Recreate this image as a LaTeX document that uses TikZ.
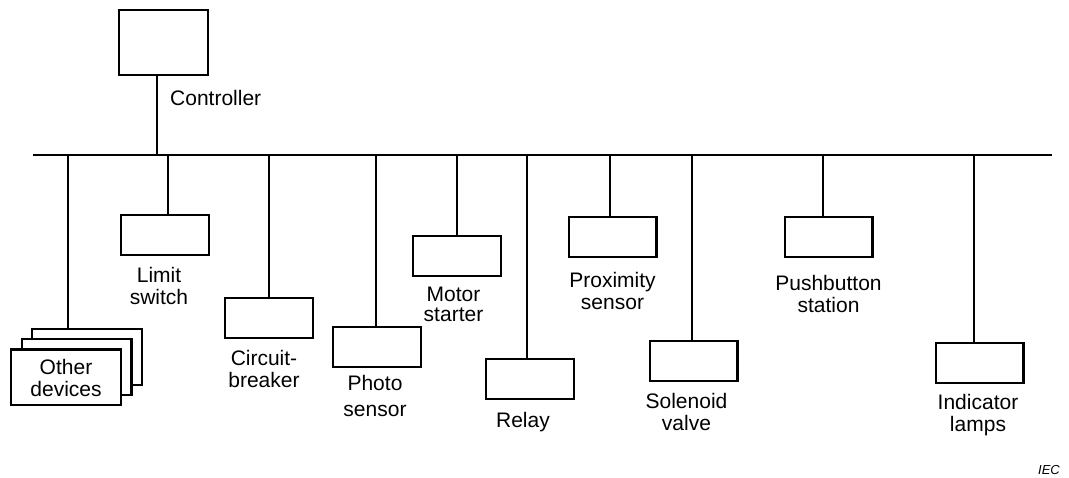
\documentclass[tikz,border=0pt]{standalone}
\usepackage{fontspec}
\setmainfont{Liberation Sans}
\usetikzlibrary{positioning}
\tikzset{
    fieldbus/.style={x=1pt, y=1pt, line cap=butt, line join=miter,
                     font=\fontsize{21}{22}\selectfont},
    device/.style={draw, line width=2.4pt, fill=white, inner sep=0pt,
                   minimum width=87.6pt, minimum height=39.6pt},
    ctrlbox/.style={device, minimum width=88.6pt, minimum height=64.6pt},
    stackbox/.style={device, minimum width=109.6pt, minimum height=55.6pt,
                     align=center},
    devlabel/.style={inner sep=0pt, align=center},
    buswire/.style={line width=2.7pt},
    wire/.style={line width=2.6pt},
    iecnote/.style={inner sep=0pt, font=\fontsize{13}{15}\selectfont\itshape},
}

\begin{document}
\begin{tikzpicture}[fieldbus]
\useasboundingbox (0,0) rectangle (1069,477);

% ─── Bus ────────────────────────────────────────────────────────────────
\coordinate (busL) at (33,322);
\coordinate (busR) at (1052,322);
\draw[buswire] (busL) -- (busR);

\foreach \tap/\x in {ctrl/157, oth/68, lim/168, cb/269, pho/376, mot/457,
                     rel/527, prox/610, sol/692, push/823, ind/974}
    \coordinate (t-\tap) at (\x,322);

% ─── Controller ─────────────────────────────────────────────────────────
\node[ctrlbox, above=79pt of t-ctrl, xshift=6.5pt] (ctrl) {};
\node[devlabel, anchor=north west] (ctrl-lbl) at (170,387) {Controller};
\draw[wire] (t-ctrl) -- (t-ctrl |- ctrl.south);

% ─── Other devices ──────────────────────────────────────────────────────
\node[stackbox, below=173pt of t-oth, xshift=19pt] (oth-c) {};
\node[stackbox, xshift=-10.5pt, yshift=-10pt] (oth-b) at (oth-c) {};
\node[stackbox, xshift=-21pt, yshift=-20.5pt] (oth-a) at (oth-c) {Other\\devices};
\draw[wire] (t-oth) -- (t-oth |- oth-c.north);

% ─── Field devices ──────────────────────────────────────────────────────
\node[device, below=59pt of t-lim, xshift=-3pt] (lim) {};
\node[devlabel, below=11pt of lim, xshift=-6pt] (lim-lbl) {Limit\\switch};
\draw[wire] (t-lim) -- (t-lim |- lim.north);

\node[device, below=142pt of t-cb] (cb) {};
\node[devlabel, below=11pt of cb, xshift=-5pt] (cb-lbl) {Circuit-\\breaker};
\draw[wire] (t-cb) -- (t-cb |- cb.north);

\node[device, below=171pt of t-pho, xshift=1pt] (pho) {};
\node[devlabel, below=7pt of pho, xshift=-2pt] (pho-lbl) {Photo\\[4pt]sensor};
\draw[wire] (t-pho) -- (t-pho |- pho.north);

\node[device, below=80pt of t-mot] (mot) {};
\node[devlabel, below=10pt of mot, xshift=-3.5pt] (mot-lbl) {Motor\\[-2pt]starter};
\draw[wire] (t-mot) -- (t-mot |- mot.north);

\node[device, below=203pt of t-rel, xshift=3pt] (rel) {};
\node[devlabel, below=12pt of rel, xshift=-7pt] (rel-lbl) {Relay};
\draw[wire] (t-rel) -- (t-rel |- rel.north);

\node[device, below=61pt of t-prox, xshift=2.5pt] (prox) {};
\node[devlabel, below=14pt of prox] (prox-lbl) {Proximity\\sensor};
\draw[wire] (t-prox) -- (t-prox |- prox.north);

\node[device, below=185pt of t-sol, xshift=1.5pt] (sol) {};
\node[devlabel, below=11pt of sol, xshift=-7pt] (sol-lbl) {Solenoid\\valve};
\draw[wire] (t-sol) -- (t-sol |- sol.north);

\node[device, below=61pt of t-push, xshift=5.5pt] (push) {};
\node[devlabel, below=17pt of push] (push-lbl) {Pushbutton\\station};
\draw[wire] (t-push) -- (t-push |- push.north);

\node[device, below=187pt of t-ind, xshift=5.5pt] (ind) {};
\node[devlabel, below=10pt of ind, xshift=-1.5pt] (ind-lbl) {Indicator\\lamps};
\draw[wire] (t-ind) -- (t-ind |- ind.north);

% ─── Source mark ────────────────────────────────────────────────────────
\node[iecnote, anchor=north east] (iec) at (1060,12) {IEC};

\end{tikzpicture}
\end{document}
